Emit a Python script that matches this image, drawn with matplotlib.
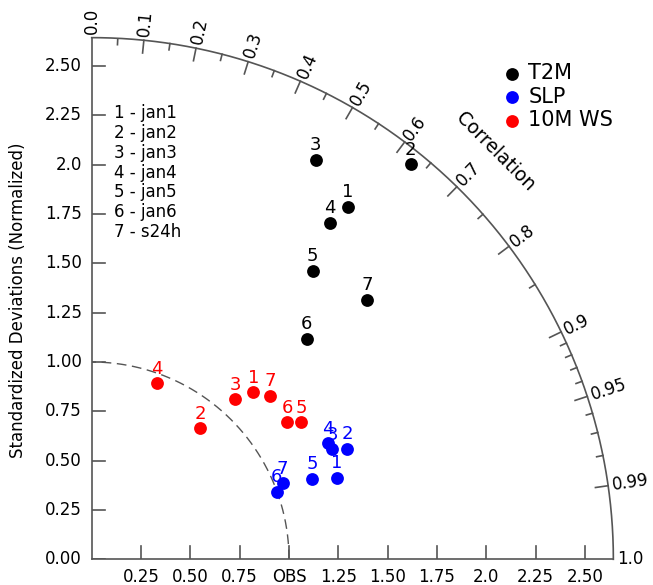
import numpy as np
import matplotlib.pyplot as plt

plt.rcParams['font.family'] = ['DejaVu Sans']

# --- dados (desvio padrão normalizado, correlação) ---
case_ids = ['1', '2', '3', '4', '5', '6', '7']
case_names = ['jan1', 'jan2', 'jan3', 'jan4', 'jan5', 'jan6', 's24h']

t2m_std = [2.210, 2.573, 2.320, 2.090, 1.841, 1.560, 1.918]
t2m_cor = [0.588, 0.628, 0.489, 0.578, 0.608, 0.698, 0.728]

slp_std = [1.308, 1.409, 1.340, 1.334, 1.189, 0.998, 1.042]
slp_cor = [0.949, 0.918, 0.909, 0.898, 0.939, 0.939, 0.929]

ws_std = [1.178, 0.862, 1.089, 0.951, 1.270, 1.211, 1.228]
ws_cor = [0.695, 0.637, 0.667, 0.346, 0.837, 0.819, 0.737]

var_names = ['T2M', 'SLP', '10M WS']
var_colors = ['black', 'blue', 'red']

rmax = 2.644
sd_ticks = [0.25, 0.5, 0.75, 1.0, 1.25, 1.5, 1.75, 2.0, 2.25, 2.5]
x_ticklabels = ['0.25', '0.50', '0.75', 'OBS', '1.25', '1.50', '1.75', '2.0', '2.25', '2.50']
y_ticks = [0.0] + sd_ticks
y_ticklabels = ['0.00', '0.25', '0.50', '0.75', '1.00', '1.25', '1.50', '1.75', '2.0', '2.25', '2.50']
cor_major = [0.0, 0.1, 0.2, 0.3, 0.4, 0.5, 0.6, 0.7, 0.8, 0.9, 0.95, 0.99, 1.0]
cor_minor = [0.05, 0.15, 0.25, 0.35, 0.45, 0.55, 0.65, 0.75, 0.85,
             0.91, 0.92, 0.93, 0.94, 0.96, 0.97, 0.98]

W, H = 653, 585
x0, y0, sc = 91.7, 559.3, 197.3  # origem e escala em pixels
fig = plt.figure(figsize=(W / 100, H / 100), dpi=100)
ax = fig.add_axes([x0 / W, (H - y0) / H, rmax * sc / W, rmax * sc / H])
ax.set_xlim(0, rmax)
ax.set_ylim(0, rmax)
ax.axis('off')

axc = '#555555'
# eixos
ax.plot([0, rmax], [0, 0], color=axc, lw=1.2, clip_on=False)
ax.plot([0, 0], [0, rmax], color=axc, lw=1.2, clip_on=False)
th = np.linspace(0, np.pi / 2, 300)
ax.plot(rmax * np.cos(th), rmax * np.sin(th), color=axc, lw=1.2, clip_on=False)

# circulo de referência
ax.plot(np.cos(th), np.sin(th), color='#555555', lw=1.0, ls=(0, (7, 4)))

fs_tick = 12
tl = 0.065
for v, lab in zip(sd_ticks, x_ticklabels):
    ax.plot([v, v], [0, tl], color=axc, lw=1.2)
    ax.text(v, -0.042, lab, ha='center', va='top', fontsize=fs_tick)
for v, lab in zip(y_ticks, y_ticklabels):
    ax.plot([0, tl], [v, v], color=axc, lw=1.2)
    ax.text(-0.05, v, lab, ha='right', va='center', fontsize=fs_tick)

# ticks de correlação
for c in cor_major:
    a = np.arccos(c)
    if 0 < c < 1:
        ax.plot([(rmax - tl) * c, rmax * c], [(rmax - tl) * np.sin(a), rmax * np.sin(a)],
                color=axc, lw=1.2)
    lab = '%.1f' % c if c not in (0.95, 0.99) else '%.2f' % c
    ax.text((rmax + 0.02) * c, (rmax + 0.02) * np.sin(a), lab, rotation=np.degrees(a),
            rotation_mode='anchor', ha='left', va='center', fontsize=fs_tick, clip_on=False)
for c in cor_minor:
    a = np.arccos(c)
    ax.plot([(rmax - tl / 2) * c, rmax * c], [(rmax - tl / 2) * np.sin(a), rmax * np.sin(a)],
            color=axc, lw=1.2)

ac = np.radians(45.3)
ax.text(2.906 * np.cos(ac), 2.906 * np.sin(ac), 'Correlation', rotation=-45,
        ha='center', va='center', fontsize=13.5)

fig.text(18 / W, 1 - 300 / H, 'Standardized Deviations (Normalized)', rotation=90,
         ha='center', va='center', fontsize=12)

# pontos
for std, cor, name, col in zip([t2m_std, slp_std, ws_std], [t2m_cor, slp_cor, ws_cor],
                               var_names, var_colors):
    std = np.array(std)
    cor = np.array(cor)
    xs = std * cor
    ys = std * np.sin(np.arccos(cor))
    ax.scatter(xs, ys, s=85, color=col, label=name, zorder=5, linewidths=0)
    for x, y, lab in zip(xs, ys, case_ids):
        ax.annotate(lab, (x, y), xytext=(0, 4), textcoords='offset points',
                    ha='center', va='bottom', fontsize=13, color=col)

for i, (k, nm) in enumerate(zip(case_ids, case_names)):
    fig.text(114 / W, 1 - (113.3 + i * 19.8) / H, f'{k} - {nm}', ha='left', va='center',
             fontsize=12)

ax.legend(loc='upper left', bbox_to_anchor=(491 / W, 1 - 53 / H),
          bbox_transform=fig.transFigure, frameon=False, fontsize=15,
          handletextpad=0.3, handlelength=1.0, labelspacing=0.17, borderpad=0)

fig.savefig('out.png', dpi=100)
